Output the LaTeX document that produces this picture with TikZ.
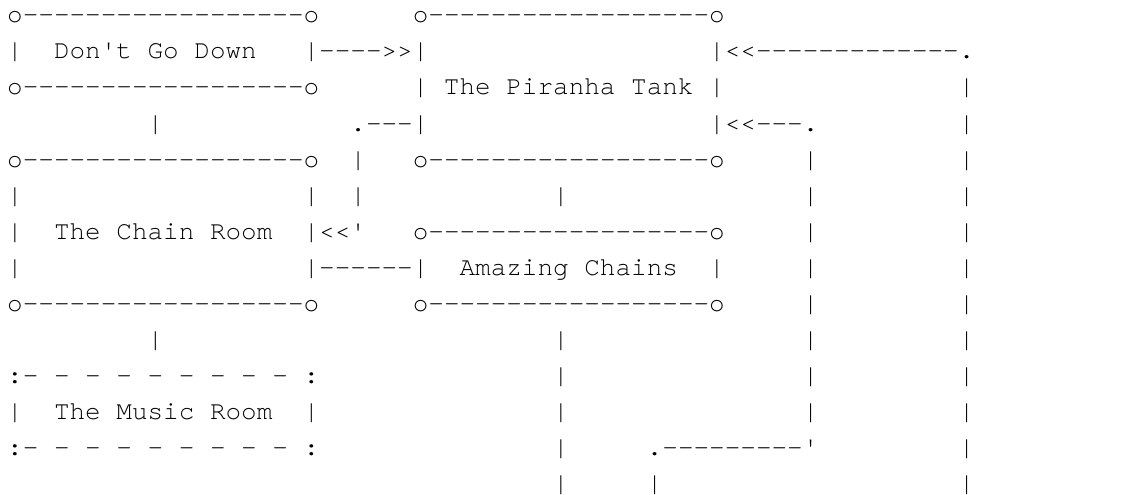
\documentclass[tikz,border=0pt]{standalone}
\usepackage{fontspec}
\setmonofont{TeX Gyre Cursor}
\usetikzlibrary{positioning}
\newcommand\gap[1]{\hspace*{#1\dimexpr0.6em\relax}}
\tikzset{
  asciirow/.style={anchor=base west, inner sep=0pt, outer sep=0pt, font=\ttfamily\fontsize{26}{36}\selectfont\frenchspacing}
}
\begin{document}
\begin{tikzpicture}[x=1pt, y=1pt]
      \useasboundingbox (0,0) rectangle (1132,-495);
      \node[asciirow] (r1) at (7.2,-23) {o------------------o\gap{6}o------------------o};
      \node[asciirow] (r2) at (7.2,-59) {|\gap{2}Don't Go Down\gap{3}|---->>|\gap{18}|<<-------------.};
      \node[asciirow] (r3) at (7.2,-95) {o------------------o\gap{6}|\gap{1}The Piranha Tank\gap{1}|\gap{15}|};
      \node[asciirow] (r4) at (7.2,-131) {\gap{9}|\gap{12}.---|\gap{18}|<<---.\gap{9}|};
      \node[asciirow] (r5) at (7.2,-167) {o------------------o\gap{2}|\gap{3}o------------------o\gap{5}|\gap{9}|};
      \node[asciirow] (r6) at (7.2,-203) {|\gap{18}|\gap{2}|\gap{12}|\gap{15}|\gap{9}|};
      \node[asciirow] (r7) at (7.2,-239) {|\gap{2}The Chain Room\gap{2}|<<'\gap{3}o------------------o\gap{5}|\gap{9}|};
      \node[asciirow] (r8) at (7.2,-275) {|\gap{18}|------|\gap{2}Amazing Chains\gap{2}|\gap{5}|\gap{9}|};
      \node[asciirow] (r9) at (7.2,-311) {o------------------o\gap{6}o------------------o\gap{5}|\gap{9}|};
      \node[asciirow] (r10) at (7.2,-347) {\gap{9}|\gap{25}|\gap{15}|\gap{9}|};
      \node[asciirow] (r11) at (7.2,-383) {:- - - - - - - - -\gap{1}:\gap{15}|\gap{15}|\gap{9}|};
      \node[asciirow] (r12) at (7.2,-419) {|\gap{2}The Music Room\gap{2}|\gap{15}|\gap{15}|\gap{9}|};
      \node[asciirow] (r13) at (7.2,-455) {:- - - - - - - - -\gap{1}:\gap{15}|\gap{5}.---------'\gap{9}|};
      \node[asciirow] (r14) at (7.2,-491) {\gap{35}|\gap{5}|\gap{19}|};
\end{tikzpicture}
\end{document}
